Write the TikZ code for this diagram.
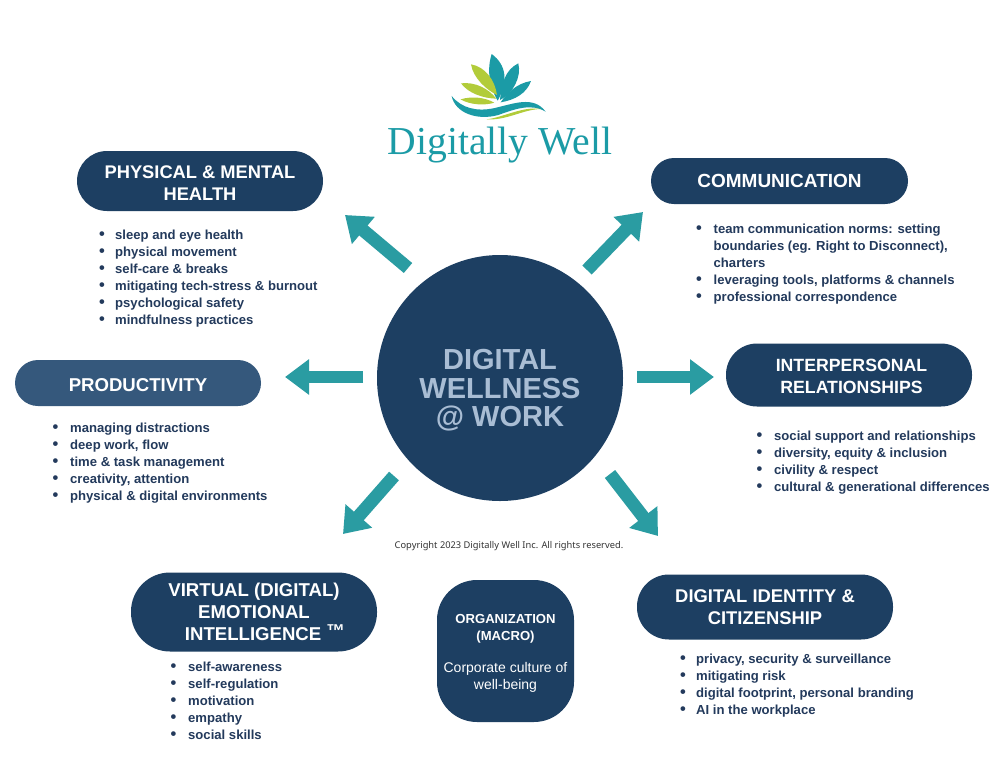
\documentclass[tikz,border=0pt]{standalone}
\usepackage{fontspec}
\setmainfont{Liberation Sans}
\newfontfamily\logofont{Liberation Serif}
\newfontfamily\copyfont{Noto Sans}
\usetikzlibrary{arrows.meta,calc}
\definecolor{navy}{HTML}{1D3F62}
\definecolor{prodblue}{HTML}{35587C}
\definecolor{tealarrow}{HTML}{2A9CA2}
\definecolor{logoteal}{HTML}{1B9BA6}
\definecolor{logogreen}{HTML}{B2CC3A}
\definecolor{centertext}{HTML}{A9BDD4}
\definecolor{listtext}{HTML}{233A5C}
\newcommand{\bul}{\makebox[17.5pt][l]{\scalebox{1.25}{\textbullet}}}
\newcommand{\sbul}{\makebox[16pt][l]{\scalebox{1.25}{\textbullet}}}
\newcommand{\cont}{\hspace*{17.5pt}}
\newcommand{\tstrut}[1]{\rule{0pt}{#1pt}}
\newcommand{\pf}[1]{\bfseries\fontsize{#1}{22}\selectfont}
\tikzset{
  pill/.style={rounded corners=#1,fill=navy,text=white,align=center,inner sep=0pt,font=\pf{18}},
  blist/.style={anchor=north west,align=left,inner sep=0pt,text=listtext,font=\bfseries\fontsize{13.1}{17}\selectfont},
  spoke/.style={line width=#1,tealarrow,-{Triangle[length=24pt,width=34pt]}}
}
\begin{document}
\begin{tikzpicture}[x=1pt,y=-1pt]
\useasboundingbox (0,0) rectangle (1002,772);
\fill[white] (0,0) rectangle (1002,772);

% logo
\begin{scope}[shift={(370,40)},x=0.3333pt,y=-0.3333pt]
\fill[logoteal] (383,182) .. controls (358,140) and (350,90) .. (365,42) .. controls (410,75) and (415,125) .. cycle;
\fill[logoteal] (390,180) .. controls (395,130) and (405,90) .. (445,70) .. controls (455,110) and (430,160) .. cycle;
\fill[logoteal] (392,187) .. controls (410,160) and (440,130) .. (483,123) .. controls (470,160) and (435,180) .. cycle;
\fill[logogreen] (381,165) .. controls (375,120) and (345,80) .. (303,73) .. controls (310,115) and (350,150) .. cycle;
\fill[logogreen] (379,176) .. controls (355,145) and (315,125) .. (273,130) .. controls (295,160) and (340,175) .. cycle;
\fill[logogreen] (373,188) .. controls (345,172) and (305,168) .. (272,178) .. controls (300,195) and (345,197) .. cycle;
\fill[logoteal] (245,168) .. controls (275,205) and (320,215) .. (370,205) .. controls (430,192) and (490,165) .. (527,215) .. controls (485,190) and (440,205) .. (385,225) .. controls (320,243) and (255,218) .. cycle;
\fill[logogreen] (350,238) .. controls (400,232) and (460,198) .. (512,207) .. controls (460,208) and (410,242) .. cycle;
\end{scope}
\node[logoteal,inner sep=0pt,font=\logofont\fontsize{39.6}{40}\selectfont] (logo) at (500,145) {Digitally Well};

% centre
\node[circle,fill=navy,minimum size=246pt,inner sep=0pt,text=centertext,align=center,font=\bfseries\fontsize{29}{28.5}\selectfont] (hub) at (500,378) {\tstrut{45}DIGITAL\\WELLNESS\\@ WORK};

% pills
\node[pill=30pt,font=\pf{18.3},minimum width=246pt,minimum height=60pt] (phys) at (200,181) {\tstrut{17.5}PHYSICAL \& MENTAL\\HEALTH};
\node[pill=23pt,font=\pf{19},minimum width=257pt,minimum height=46pt] (comm) at (779.5,181) {COMMUNICATION};
\node[pill=23pt,font=\pf{18.6},fill=prodblue,minimum width=246pt,minimum height=46pt] (prod) at (138,383) {\tstrut{16.5}PRODUCTIVITY};
\node[pill=31pt,font=\pf{17.7},minimum width=246pt,minimum height=63pt] (inter) at (849,375) {\tstrut{15.5}\hspace*{5pt}INTERPERSONAL\\\hspace*{5pt}RELATIONSHIPS};
\node[pill=39pt,font=\pf{18.6},minimum width=246pt,minimum height=79pt] (virt) at (254,612) {VIRTUAL (DIGITAL)\\EMOTIONAL\\\hspace*{22pt}INTELLIGENCE \raisebox{3pt}{™}};
\node[pill=32pt,font=\pf{18.4},minimum width=256pt,minimum height=65pt] (ident) at (765,607) {DIGITAL IDENTITY \&\\CITIZENSHIP};
\node[pill=40pt,minimum width=137pt,minimum height=142pt,font=\fontsize{14}{17}\selectfont] (org) at (505.5,651) {\tstrut{14.7}\textbf{\fontsize{13.1}{17}\selectfont ORGANIZATION}\\\textbf{\fontsize{13.1}{17}\selectfont (MACRO)}\\[15pt]Corporate culture of\\well-being};

% arrows
\coordinate (nwS) at (408,268); \coordinate (nwE) at (345,215);
\coordinate (neS) at (587,270); \coordinate (neE) at (643,212);
\coordinate (wS) at (363,377);  \coordinate (wE) at (285,377);
\coordinate (eS) at (637,377);  \coordinate (eE) at (714,377);
\coordinate (swS) at (394,476); \coordinate (swE) at (343,534);
\coordinate (seS) at (610,474); \coordinate (seE) at (658,536);
\foreach \a in {nw,ne,sw,se}{\draw[spoke=13pt] (\a S) -- (\a E);}
\foreach \a in {w,e}{\draw[spoke=11.5pt] (\a S) -- (\a E);}

% lists
\node[blist] (l1) at (99,229.5) {\sbul sleep and eye health\\\sbul physical movement\\\sbul self-care \& breaks\\\sbul mitigating tech-stress \& burnout\\\sbul psychological safety\\\sbul mindfulness practices};
\node[blist] (l2) at (696,223.5) {\bul team communication norms: setting\\\cont boundaries (eg. Right to Disconnect),\\\cont charters\\\bul leveraging tools, platforms \& channels\\\bul professional correspondence};
\node[blist] (l3) at (52.5,422.5) {\bul managing distractions\\\bul deep work, flow\\\bul time \& task management\\\bul creativity, attention\\\bul physical \& digital environments};
\node[blist] (l4) at (756.5,430.5) {\bul social support and relationships\\\bul diversity, equity \& inclusion\\\bul civility \& respect\\\bul cultural \& generational differences};
\node[blist] (l5) at (170.5,661.5) {\bul self-awareness\\\bul self-regulation\\\bul motivation\\\bul empathy\\\bul social skills};
\node[blist] (l6) at (680,654) {\sbul privacy, security \& surveillance\\\sbul mitigating risk\\\sbul digital footprint, personal branding\\\sbul AI in the workplace};

\node[inner sep=0pt,text=black!80,font=\copyfont\fontsize{9.3}{11}\selectfont] (copy) at (509,546.5) {Copyright 2023 Digitally Well Inc. All rights reserved.};
\end{tikzpicture}
\end{document}
